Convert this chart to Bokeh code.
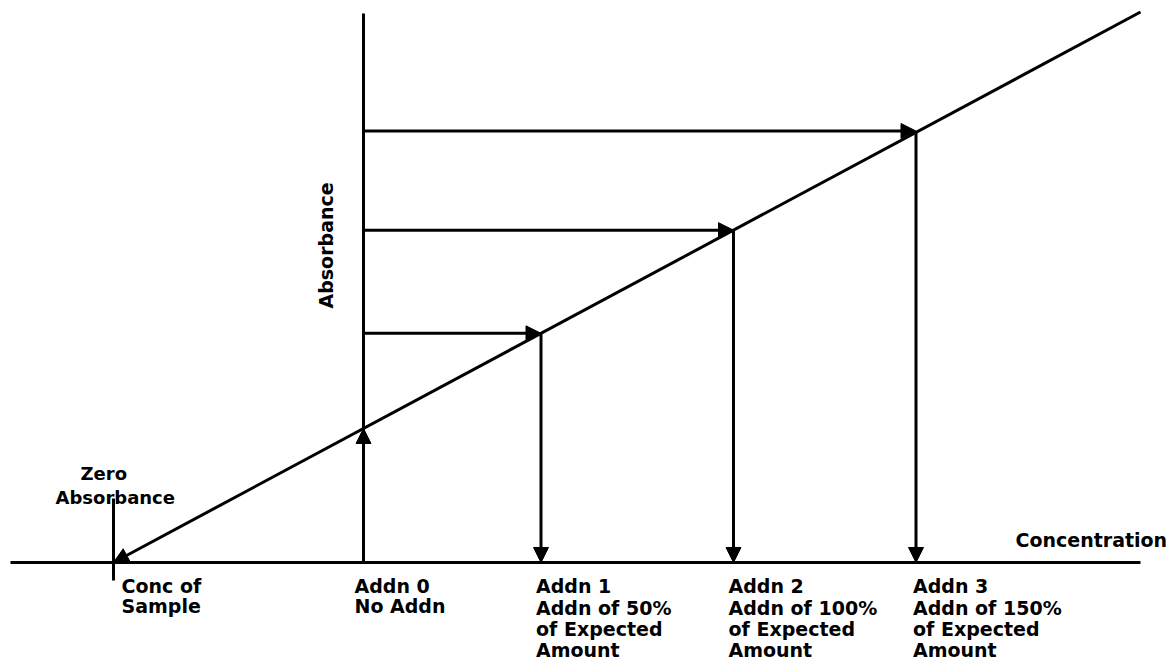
import math
from bokeh.plotting import figure
from bokeh.models import Arrow, NormalHead, ColumnDataSource, Range1d
from bokeh.core.properties import value
from bokeh.embed import file_html
from bokeh.resources import INLINE

# ---- data ----
sample_conc = -1.0                      # concentration of sample (x-intercept)
addn_conc = [0.0, 0.71, 1.48, 2.21]     # Addn 0..3 positions on concentration axis
addn_abs = [1.0, 1.71, 2.48, 3.22]      # absorbance read at each addition
line_end_conc = 3.108                   # far end of calibration line
line_end_abs = 4.108
axis_x_min = -1.412
axis_x_max = 3.108
axis_y_max = 4.097

label_lines = [
    ["Conc of", "Sample"],
    ["Addn 0", "No Addn"],
    ["Addn 1", "Addn of 50%", "of Expected", "Amount"],
    ["Addn 2", "Addn of 100%", "of Expected", "Amount"],
    ["Addn 3", "Addn of 150%", "of Expected", "Amount"],
]
label_x = [sample_conc] + addn_conc
label_dx = [8, -9, -5, -5, -3]
label_pitch = [20, 20, 21.3, 21.3, 21.3]

p = figure(width=1169, height=661, output_backend="svg", toolbar_location=None,
           x_range=Range1d(-1.452, 3.224), y_range=Range1d(-0.739, 4.194),
           x_axis_type=None, y_axis_type=None, min_border=0,
           outline_line_color=None, background_fill_color="white",
           border_fill_color="white")

LW = 3
# axes
p.line([axis_x_min, axis_x_max], [0, 0], line_color="black", line_width=LW)
p.line([0, 0], [0, axis_y_max], line_color="black", line_width=LW)
# zero absorbance tick
p.line([sample_conc, sample_conc], [0.478, -0.134], line_color="black", line_width=LW)

def head():
    return NormalHead(size=15, fill_color="black", line_color="black", line_width=1)

# calibration line with arrow at the sample point
p.add_layout(Arrow(end=head(), x_start=line_end_conc, y_start=line_end_abs,
                   x_end=sample_conc, y_end=0, line_width=LW, line_color="black"))

# Addn 0 upward arrow
p.add_layout(Arrow(end=head(), x_start=addn_conc[0], y_start=0,
                   x_end=addn_conc[0], y_end=addn_abs[0], line_width=LW, line_color="black"))

# horizontal arrows from absorbance axis to line, vertical arrows down to axis
n = len(addn_conc) - 1
h_src = ColumnDataSource(dict(xs=[0.0] * n, ys=addn_abs[1:], xe=addn_conc[1:], ye=addn_abs[1:]))
p.add_layout(Arrow(end=head(), source=h_src, x_start="xs", y_start="ys",
                   x_end="xe", y_end="ye", line_width=LW, line_color="black"))
v_src = ColumnDataSource(dict(xs=addn_conc[1:], ys=addn_abs[1:], xe=addn_conc[1:], ye=[0.0] * n))
p.add_layout(Arrow(end=head(), source=v_src, x_start="xs", y_start="ys",
                   x_end="xe", y_end="ye", line_width=LW, line_color="black"))

# labels under the axis
tx, ty, tt, tdx, tdy = [], [], [], [], []
for lx, dx, pitch, lines in zip(label_x, label_dx, label_pitch, label_lines):
    for k, t in enumerate(lines):
        tx.append(lx); ty.append(0.0); tt.append(t)
        tdx.append(dx); tdy.append(24 + pitch * k)
lab_src = ColumnDataSource(dict(x=tx, y=ty, text=tt, dx=tdx, dy=tdy))
p.text(x="x", y="y", text="text", x_offset="dx", y_offset="dy", source=lab_src,
       text_font=value("DejaVu Sans"), text_font_style="bold", text_font_size="19px",
       text_baseline="alphabetic", text_align="left", text_color="black")

# Concentration
p.text(x=[2.608], y=[0.0], text=["Concentration"], y_offset=-22,
       text_font=value("DejaVu Sans"), text_font_style="bold", text_font_size="19px",
       text_baseline="alphabetic", text_align="left", text_color="black")

# Zero Absorbance
p.text(x=[sample_conc, sample_conc], y=[0.0, 0.0], text=["Zero", "Absorbance"],
       x_offset=[-33, -58], y_offset=[-89, -65],
       text_font=value("DejaVu Sans"), text_font_style="bold", text_font_size="18px",
       text_baseline="alphabetic", text_align="left", text_color="black")

# Absorbance (vertical)
p.text(x=[0.0], y=[2.366], text=["Absorbance"], x_offset=-38, angle=math.pi / 2,
       text_font=value("DejaVu Sans"), text_font_style="bold", text_font_size="19px",
       text_baseline="middle", text_align="center", text_color="black")

open("out.html", "w").write(file_html(p, INLINE))
